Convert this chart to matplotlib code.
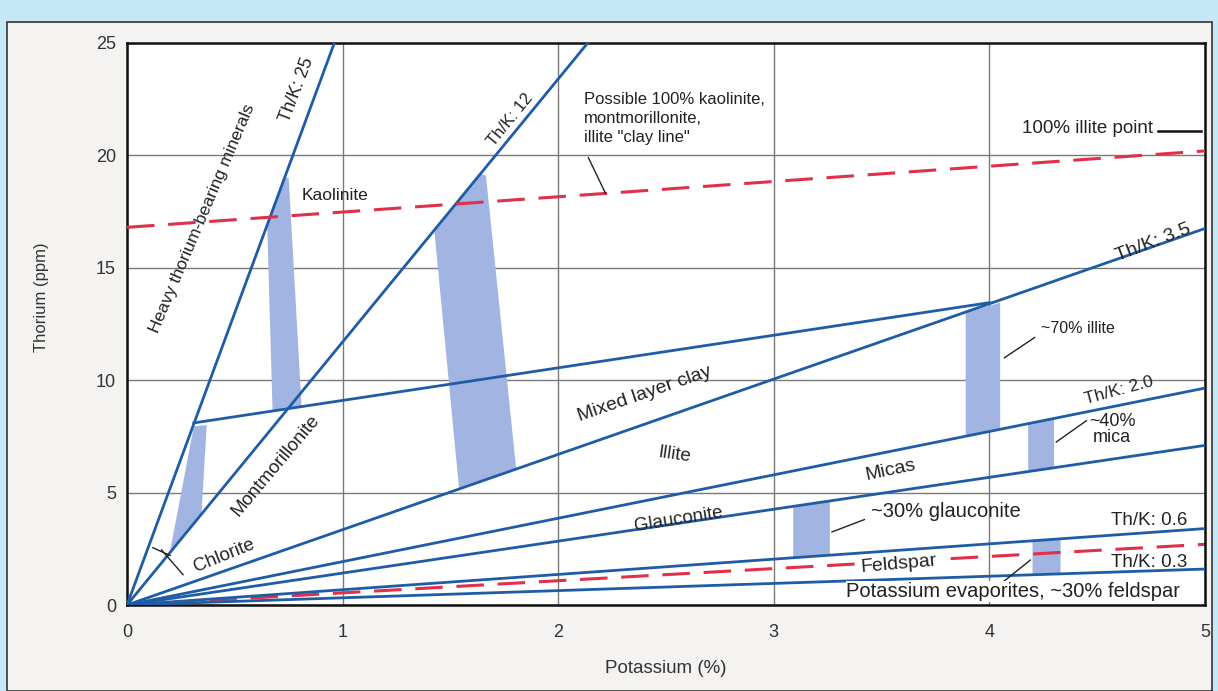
import matplotlib
matplotlib.use("Agg")
import matplotlib.pyplot as plt
from matplotlib.patches import Rectangle, Polygon

plt.rcParams['font.family'] = ['Liberation Sans', 'DejaVu Sans']

# ratio lines from the origin (Th/K slopes)
ratio_slopes = [26.0, 11.7, 3.35, 1.93, 1.42, 0.68, 0.32]

# mixed layer clay segment, clay line, feldspar line
mixed_k = [0.31, 4.0]
mixed_th = [8.1, 13.45]
clay_k = [0.0, 5.0]
clay_th = [16.8, 20.2]
feld_k = [0.0, 5.0]
feld_th = [0.0, 2.7]
illite_pt_k = [4.78, 4.98]
illite_pt_th = [21.1, 21.1]

# shaded mineral bands (K %, Th ppm)
bands = {
    'chlorite':   ([0.20, 0.31, 0.37, 0.345], [2.4, 7.95, 8.0, 4.0]),
    'kaol_mont':  ([0.65, 0.725, 0.75, 0.81, 0.675], [17.0, 19.0, 19.0, 8.8, 8.65]),
    'illite':     ([1.426, 1.635, 1.665, 1.805, 1.54], [16.6, 19.2, 19.1, 6.05, 5.2]),
    'illite70':   ([3.89, 4.05, 4.05, 3.89], [13.0, 13.45, 7.85, 7.5]),
    'mica40':     ([4.18, 4.30, 4.30, 4.18], [8.1, 8.35, 6.05, 5.9]),
    'glauc30':    ([3.09, 3.26, 3.26, 3.09], [4.36, 4.6, 2.2, 2.1]),
    'feldspar30': ([4.20, 4.33, 4.33, 4.20], [2.86, 2.95, 1.39, 1.35]),
}

# leader lines (K, Th)
leaders = [
    ([2.14, 2.22], [19.9, 18.3]),
    ([4.07, 4.21], [11.0, 11.9]),
    ([4.31, 4.45], [7.25, 8.2]),
    ([3.27, 3.42], [3.25, 3.8]),
    ([4.06, 4.19], [1.0, 2.0]),
    ([0.26, 0.16], [1.35, 2.45]),
    ([0.12, 0.20], [2.55, 2.2]),
]

# labels: text, K, Th, rotation, size
labels = [
    ("Th/K: 25", 0.79, 22.9, 69, 13),
    ("Th/K: 12", 1.78, 21.6, 51, 12),
    ("Heavy thorium-bearing minerals", 0.35, 17.2, 67, 12.5),
    ("Kaolinite", 0.965, 18.2, 0, 12.5),
    ("Montmorillonite", 0.69, 6.2, 50, 13.5),
    ("Chlorite", 0.45, 2.2, 22, 13.5),
    ("Mixed layer clay", 2.40, 9.4, 19, 14),
    ("Illite", 2.54, 6.67, -8, 13.5),
    ("Micas", 3.54, 6.0, 12, 14),
    ("Glauconite", 2.56, 3.8, 9, 13.5),
    ("~30% glauconite", 3.80, 4.15, 0, 14.5),
    ("Th/K: 0.6", 4.74, 3.75, 0, 13.5),
    ("Th/K: 0.3", 4.74, 1.87, 0, 13.5),
    ("~70% illite", 4.41, 12.3, 0, 11.5),
    ("Th/K: 2.0", 4.60, 9.55, 15, 12.5),
    ("~40%\nmica", 4.57, 7.8, 0, 13),
    ("Th/K: 3.5", 4.76, 16.1, 21, 14),
]

x_ticks = [0, 1, 2, 3, 4, 5]
y_ticks = [0, 5, 10, 15, 20, 25]

fig = plt.figure(figsize=(12.18, 6.91), dpi=100)
fig.patch.set_facecolor('#c6e7f8')
fig.patches.append(Rectangle((7 / 1218, 0), 1205 / 1218, (691 - 22) / 691,
                             transform=fig.transFigure, facecolor='#f4f3f1',
                             edgecolor='#333333', lw=1.2, zorder=-5))

ax = fig.add_axes([127 / 1218, 86 / 691, 1078 / 1218, 562 / 691])
ax.set_zorder(2)
ax.set_facecolor('white')
ax.set_xlim(0, 5)
ax.set_ylim(0, 25)
ax.set_xticks(x_ticks)
ax.set_yticks(y_ticks)
ax.tick_params(length=0, labelsize=13, labelcolor='#333333')
ax.tick_params(axis='x', pad=14)
ax.tick_params(axis='y', pad=8)
for s in ax.spines.values():
    s.set_linewidth(1.8)
    s.set_color('#111111')
ax.grid(True, color='#7a7a7a', lw=1.0, zorder=0)
ax.set_axisbelow(True)

ax.set_xlabel("Potassium (%)", fontsize=13.5, color='#333333')
ax.set_ylabel("Thorium (ppm)", fontsize=12, color='#333333')
ax.xaxis.set_label_coords(0.50, -0.097)
ax.yaxis.set_label_coords(-0.072, 0.548)

band_col = '#a2b5e2'
for name, (bk, bt) in bands.items():
    ax.add_patch(Polygon(list(zip(bk, bt)), closed=True, facecolor=band_col,
                         edgecolor='none', zorder=1))

blue = '#1f5ca6'
for sl in ratio_slopes:
    ax.plot([0, 5], [0, 5 * sl], color=blue, lw=2.0, zorder=3)
ax.plot(mixed_k, mixed_th, color=blue, lw=2.0, zorder=3)

red = '#e0304a'
ax.plot(clay_k, clay_th, color=red, lw=2.2, ls=(0, (9, 4.5)), zorder=4)
ax.plot(feld_k, feld_th, color=red, lw=2.2, ls=(0, (9, 4.5)), zorder=2)
ax.plot(illite_pt_k, illite_pt_th, color='#111111', lw=1.8, zorder=4)

for lk, lt in leaders:
    ax.plot(lk, lt, color='#222222', lw=1.0, zorder=5)

for txt, k, th, rot, size in labels:
    ax.text(k, th, txt, fontsize=size, color='#222222', rotation=rot,
            ha='center', va='center', rotation_mode='anchor', zorder=6,
            linespacing=0.95)

ax.text(2.12, 22.8, 'Possible 100% kaolinite,\nmontmorillonite,\nillite "clay line"',
        fontsize=12, color='#222222', ha='left', va='top', zorder=6,
        linespacing=1.3, bbox=dict(facecolor='white', edgecolor='none', pad=1))
ax.text(4.76, 21.2, "100% illite point", fontsize=13.5, color='#222222',
        ha='right', va='center', zorder=6)
ax.text(3.58, 1.8, "Feldspar", fontsize=14, color='#222222', rotation=5,
        ha='center', va='center', zorder=6,
        bbox=dict(facecolor='white', edgecolor='none', pad=0.5))
ax.text(4.11, 0.6, "Potassium evaporites, ~30% feldspar", fontsize=14.5,
        color='#222222', ha='center', va='center', zorder=6,
        bbox=dict(facecolor='white', edgecolor='none', pad=0.5))

fig.savefig("out.png", dpi=100, facecolor=fig.get_facecolor())
